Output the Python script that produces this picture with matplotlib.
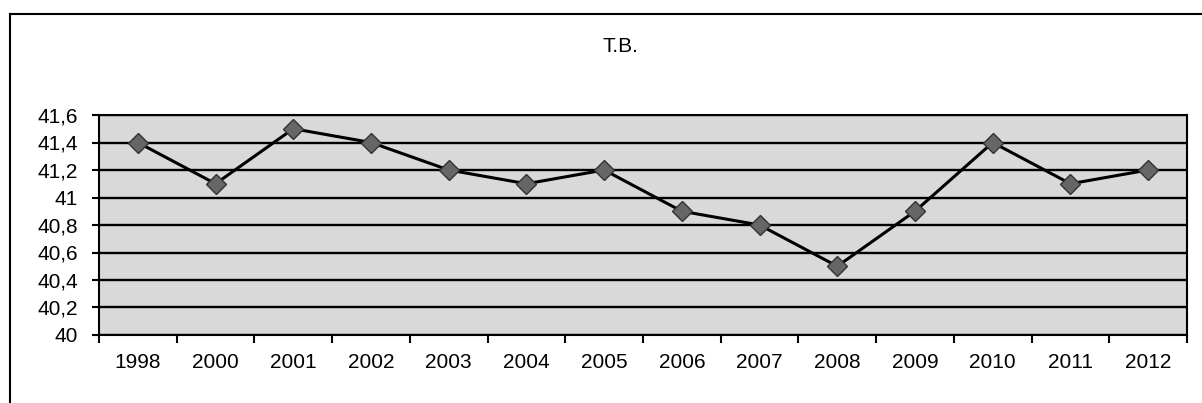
import matplotlib
matplotlib.use("Agg")
import matplotlib.pyplot as plt
from matplotlib.lines import Line2D
import numpy as np

plt.rcParams['font.family'] = ['Liberation Sans', 'DejaVu Sans']

years = ['1998', '2000', '2001', '2002', '2003', '2004', '2005',
         '2006', '2007', '2008', '2009', '2010', '2011', '2012']
values = [41.4, 41.1, 41.5, 41.4, 41.2, 41.1, 41.2,
          40.9, 40.8, 40.5, 40.9, 41.4, 41.1, 41.2]
yticks = [40, 40.2, 40.4, 40.6, 40.8, 41, 41.2, 41.4, 41.6]
ytick_labels = ['40', '40,2', '40,4', '40,6', '40,8', '41', '41,2', '41,4', '41,6']

fig = plt.figure(figsize=(12.02, 4.03), dpi=100)
ax = fig.add_axes([99/1202, 1 - 335/403, 1088/1202, 220/403])
ax.set_facecolor('#d9d9d9')

x = np.arange(len(years))
ax.plot(x, values, color='black', lw=2.2, marker='D', markersize=10,
        markerfacecolor='#666666', markeredgecolor='#333333', markeredgewidth=1, zorder=3)

ax.set_xlim(-0.5, len(years) - 0.5)
ax.set_ylim(40, 41.6)
ax.set_yticks(yticks)
ax.set_yticklabels(ytick_labels, fontsize=15)
ax.yaxis.grid(True, color='black', lw=1.7)
ax.set_axisbelow(True)

# category ticks sit between the labels
ax.set_xticks(np.arange(-0.5, len(years), 1.0))
ax.set_xticklabels([])
ax.set_xticks(x, minor=True)
ax.set_xticklabels(years, minor=True, fontsize=15)
ax.tick_params(axis='x', which='minor', length=0, pad=13)
ax.tick_params(axis='x', which='major', length=6, width=1.5, direction='out')
ax.tick_params(axis='y', length=5, width=1.5, pad=10)

for s in ax.spines.values():
    s.set_color('black')
    s.set_linewidth(1.5)

fig.text(620/1202, 1 - 46/403, 'T.B.', ha='center', va='center', fontsize=15)

# outer chart frame (top and left only visible)
fig.add_artist(Line2D([10/1202, 1.0], [1 - 14/403, 1 - 14/403], color='black', lw=1.5))
fig.add_artist(Line2D([10/1202, 10/1202], [0, 1 - 14/403], color='black', lw=1.5))

fig.savefig('out.png', dpi=100)
